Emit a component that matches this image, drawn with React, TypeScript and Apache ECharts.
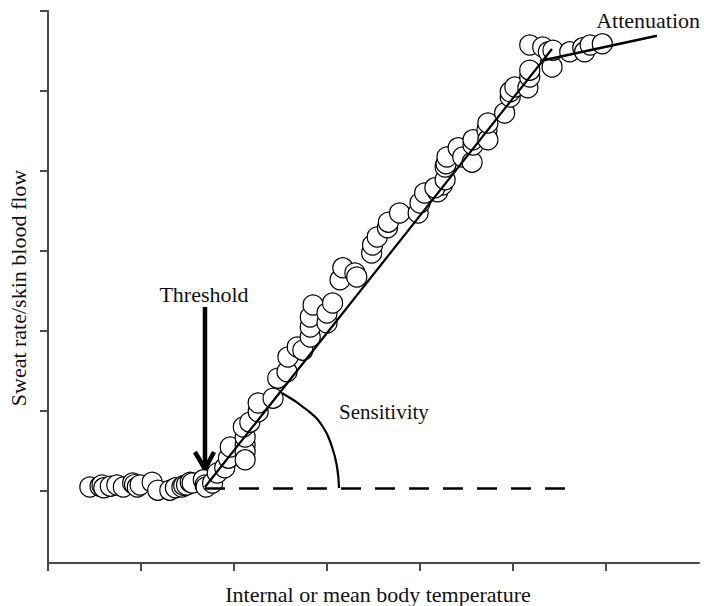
import React, { useEffect, useRef } from "react";
import * as echarts from "echarts";

// Observations: [body temperature (axis units), response (axis units)]
const plateauPoints: number[][] = [
  [0.45, 0.95], [0.56, 0.96], [0.58, 0.975], [0.6, 0.94], [0.67, 0.96], [0.74, 0.975],
  [0.81, 0.95], [0.91, 1.0], [0.93, 0.98], [0.96, 0.95], [0.99, 0.975], [1.12, 1.01],
  [1.18, 0.91], [1.31, 0.91], [1.37, 0.94], [1.44, 0.95], [1.46, 0.97], [1.49, 0.975],
  [1.53, 1.01], [1.55, 1.0], [1.67, 1.04], [1.69, 0.975], [1.7, 0.95],
];
const risingPoints: number[][] = [
  [1.77, 1.0], [1.82, 1.125], [1.9, 1.19], [1.94, 1.31], [1.96, 1.45], [2.12, 1.475],
  [2.12, 1.39], [2.12, 1.29], [2.12, 1.575], [2.1, 1.7], [2.17, 1.76], [2.26, 1.89],
  [2.26, 2.0], [2.42, 2.06], [2.47, 2.31], [2.57, 2.39], [2.58, 2.575], [2.68, 2.7],
  [2.74, 2.66], [2.82, 2.825], [2.82, 2.95], [2.82, 3.075], [2.85, 3.225], [3.0, 3.0],
  [3.0, 3.125], [3.06, 3.25], [3.14, 3.54], [3.17, 3.69], [3.3, 3.625], [3.32, 3.575],
  [3.48, 3.875], [3.49, 3.975], [3.54, 4.075], [3.65, 4.19], [3.66, 4.26], [3.78, 4.375],
  [3.98, 4.375], [4.0, 4.5], [4.05, 4.625], [4.19, 4.64], [4.24, 4.725], [4.16, 4.69],
  [4.27, 4.79], [4.27, 4.95], [4.28, 4.99], [4.29, 5.075], [4.41, 5.19], [4.46, 5.075],
  [4.56, 5.01], [4.57, 5.225], [4.57, 5.29], [4.72, 5.41], [4.73, 5.29], [4.73, 5.5],
  [4.91, 5.625], [4.97, 5.825], [4.97, 5.89], [5.02, 5.95], [5.16, 5.94], [5.18, 6.075],
  [5.18, 6.16],
];
const topPoints: number[][] = [
  [5.18, 6.475], [5.32, 6.45], [5.38, 6.39], [5.42, 6.2], [5.43, 6.41], [5.61, 6.39],
  [5.75, 6.44], [5.77, 6.39], [5.83, 6.475], [5.96, 6.49],
];

const fitLine: number[][] = [[1.688, 0.95], [5.419, 6.425]];
const attenuationLine: number[][] = [[5.29, 6.275], [6.548, 6.59]];
const baselineLine: number[][] = [[1.688, 0.93], [5.56, 0.93]];
const sensitivityArc: number[][] = [
  [2.516, 2.125], [2.785, 1.9125], [2.957, 1.7], [3.054, 1.45], [3.108, 1.2], [3.129, 0.9375],
];
const thresholdShaft: number[][] = [[1.688, 3.2], [1.688, 1.22]];
const thresholdHead: number[][] = [[1.58, 1.3875], [1.688, 1.175], [1.785, 1.3875]];

const xTicks = [0, 1, 2, 3, 4, 5, 6];
const yTicks = [0.9, 1.9, 2.9, 3.9, 4.9, 5.9, 6.9];

const FONT = "'Liberation Serif', 'Times New Roman', serif";

export default function App() {
  const ref = useRef<HTMLDivElement>(null);
  useEffect(() => {
    document.body.style.margin = "0";
    const chart = echarts.init(ref.current!, undefined, { renderer: "svg" });
    const axisColor = "#4a4a4a";
    const lineSeries = (data: number[][], width: number, extra: any = {}) => ({
      type: "line",
      data,
      symbol: "none",
      z: 5,
      lineStyle: { color: "#000", width, ...(extra.lineStyle || {}) },
      smooth: extra.smooth || false,
      silent: true,
    });
    const txt = (text: string, x: number, y: number, align: string, size: number, rotation = 0) => ({
      type: "text",
      x,
      y,
      rotation,
      style: { text, font: `${size}px ${FONT}`, fill: "#111", textAlign: align, textVerticalAlign: "middle" },
    });
    chart.setOption({
      animation: false,
      backgroundColor: "#fff",
      grid: { left: 48, right: 5, top: 11, bottom: 43 },
      xAxis: {
        type: "value",
        min: 0,
        max: 7,
        axisLine: { show: true, lineStyle: { color: axisColor, width: 2 } },
        axisTick: { show: true, customValues: xTicks, length: 8, lineStyle: { color: axisColor, width: 2 } },
        axisLabel: { show: false },
        splitLine: { show: false },
      },
      yAxis: {
        type: "value",
        min: 0,
        max: 6.9,
        axisLine: { show: true, lineStyle: { color: axisColor, width: 2 } },
        axisTick: { show: true, customValues: yTicks, length: 8, lineStyle: { color: axisColor, width: 2 } },
        axisLabel: { show: false },
        splitLine: { show: false },
      },
      series: [
        {
          type: "scatter",
          data: [...plateauPoints, ...risingPoints, ...topPoints],
          symbol: "circle",
          symbolSize: 20,
          z: 2,
          itemStyle: { color: "#fff", borderColor: "#000", borderWidth: 1.2, opacity: 1 },
          silent: true,
        },
        lineSeries(fitLine, 2.2),
        lineSeries(attenuationLine, 2.5),
        lineSeries(baselineLine, 2.5, { lineStyle: { type: [20, 14] } }),
        lineSeries(sensitivityArc, 2.2, { smooth: 0.5 }),
        lineSeries(thresholdShaft, 4.5),
        lineSeries(thresholdHead, 4.5),
      ],
      graphic: [
        txt("Threshold", 204, 294, "center", 22),
        txt("Sensitivity", 339, 412, "left", 21),
        txt("Attenuation", 700, 20, "right", 22),
        txt("Internal or mean body temperature", 378, 594, "center", 22),
        txt("Sweat rate/skin blood flow", 18, 288, "center", 22, Math.PI / 2),
      ],
    });
    return () => chart.dispose();
  }, []);
  return <div ref={ref} style={{ width: 704, height: 606 }} />;
}
